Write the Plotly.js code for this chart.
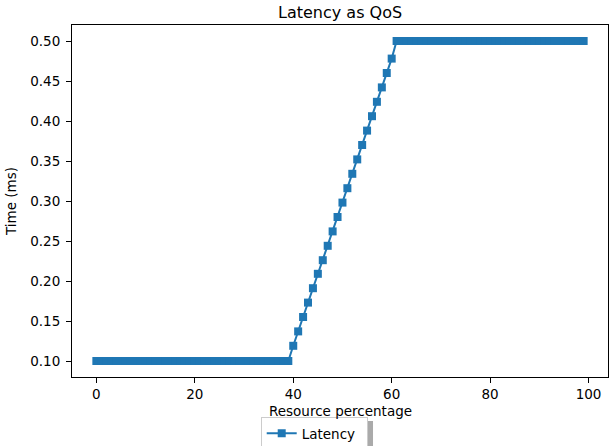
<!DOCTYPE html>
<html>
<head>
<meta charset="utf-8">
<script src="https://cdn.plot.ly/plotly-3.0.1.min.js"></script>
<style>
html,body{margin:0;padding:0;background:#fff;}
#chart{width:610px;height:446px;}
</style>
</head>
<body>
<div id="chart"></div>
<script>
// Resource percentage (x) and latency in ms (y)
var resourcePct = [0,1,2,3,4,5,6,7,8,9,10,11,12,13,14,15,16,17,18,19,
  20,21,22,23,24,25,26,27,28,29,30,31,32,33,34,35,36,37,38,39,
  40,41,42,43,44,45,46,47,48,49,50,51,52,53,54,55,56,57,58,59,
  60,61,62,63,64,65,66,67,68,69,70,71,72,73,74,75,76,77,78,79,
  80,81,82,83,84,85,86,87,88,89,90,91,92,93,94,95,96,97,98,99];
var latency = [0.1,0.1,0.1,0.1,0.1,0.1,0.1,0.1,0.1,0.1,0.1,0.1,0.1,0.1,0.1,0.1,0.1,0.1,0.1,0.1,
  0.1,0.1,0.1,0.1,0.1,0.1,0.1,0.1,0.1,0.1,0.1,0.1,0.1,0.1,0.1,0.1,0.1,0.1,0.1,0.1,
  0.119,0.137,0.155,0.173,0.191,0.209,0.226,0.244,0.262,0.280,0.298,0.316,0.334,0.352,0.370,0.388,0.406,0.424,0.442,0.460,
  0.478,0.5,0.5,0.5,0.5,0.5,0.5,0.5,0.5,0.5,0.5,0.5,0.5,0.5,0.5,0.5,0.5,0.5,0.5,0.5,
  0.5,0.5,0.5,0.5,0.5,0.5,0.5,0.5,0.5,0.5,0.5,0.5,0.5,0.5,0.5,0.5,0.5,0.5,0.5,0.5];
var seriesName = 'Latency';
var xTitle = 'Resource percentage';
var xTicks = [0,20,40,60,80,100];
var yTicks = [0.10,0.15,0.20,0.25,0.30,0.35,0.40,0.45,0.50];
var yTickText = ['0.10','0.15','0.20','0.25','0.30','0.35','0.40','0.45','0.50'];

var font = 'DejaVu Sans, sans-serif';
var trace = {
  x: resourcePct, y: latency, name: seriesName,
  type: 'scatter', mode: 'lines+markers',
  line: {color: '#1f77b4', width: 2},
  marker: {symbol: 'square', size: 8, color: '#1f77b4', line: {width: 0}}
};
var layout = {
  width: 610, height: 446,
  margin: {l: 72, r: 2, t: 25, b: 69},
  paper_bgcolor: '#fff', plot_bgcolor: '#fff',
  font: {family: font, size: 13.5, color: '#000'},
  title: {text: 'Latency as QoS', font: {family: font, size: 16, color: '#000'},
          x: 0.5575, xanchor: 'center', y: 0.972, yanchor: 'middle'},
  xaxis: {
    range: [-4.95, 103.95], tickvals: xTicks, ticktext: xTicks.map(String),
    showgrid: false, zeroline: false, automargin: false,
    showline: true, mirror: true, linecolor: '#000', linewidth: 1,
    ticks: 'outside', ticklen: 5, tickwidth: 1, tickcolor: '#000',
    ticklabelstandoff: 0,
    tickfont: {family: font, size: 13.5, color: '#000'}
  },
  yaxis: {
    range: [0.08, 0.52], tickvals: yTicks, ticktext: yTickText,
    showgrid: false, zeroline: false, automargin: true,
    showline: true, mirror: true, linecolor: '#000', linewidth: 1,
    ticks: 'outside', ticklen: 5, tickwidth: 1, tickcolor: '#000',
    ticklabelstandoff: 3,
    tickfont: {family: font, size: 13.5, color: '#000'},
    title: {text: 'Time (ms)', font: {family: font, size: 13.5, color: '#000'}, standoff: 10}
  },
  annotations: [{
    text: xTitle, xref: 'paper', yref: 'paper', x: 0.5, y: -0.0966,
    xanchor: 'center', yanchor: 'middle', showarrow: false,
    font: {family: font, size: 13.5, color: '#000'}
  }],
  showlegend: true,
  legend: {
    xref: 'container', yref: 'container',
    x: 0.4274, xanchor: 'left', y: 0.065, yanchor: 'top',
    orientation: 'h', bgcolor: '#fff', bordercolor: '#ccc', borderwidth: 1,
    font: {family: font, size: 13.5, color: '#000'},
    itemwidth: 30, entrywidth: 60, tracegroupgap: 0
  },
  shapes: [{
    type: 'rect', xref: 'paper', yref: 'paper',
    x0: 0.36, x1: 0.5616, y0: -0.196, y1: -0.125,
    fillcolor: '#aaa', line: {width: 0}, layer: 'above'
  }]
};
Plotly.newPlot('chart', [trace], layout, {displayModeBar: false, staticPlot: true});
</script>
</body>
</html>
